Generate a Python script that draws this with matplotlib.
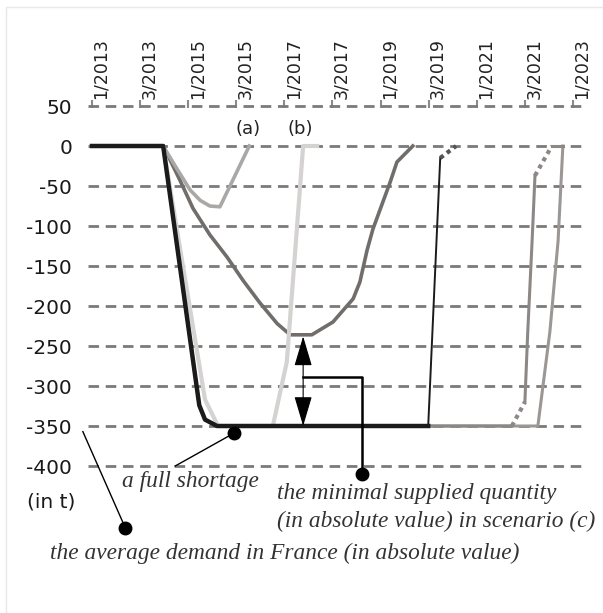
import matplotlib
matplotlib.use('Agg')
import matplotlib.pyplot as plt
from matplotlib.patches import Rectangle

plt.rcParams['axes.unicode_minus'] = False

# periods on the top axis (x below is in units of these ticks)
periods = ['1/2013', '3/2013', '1/2015', '3/2015', '1/2017', '3/2017',
           '1/2019', '3/2019', '1/2021', '3/2021', '1/2023']
yticks = [50, 0, -50, -100, -150, -200, -250, -300, -350, -400]

# scenario (a)
x_a = [0, 1.48, 1.73, 2.04, 2.25, 2.45, 2.66, 3.27]
y_a = [0, 0, -25, -55, -68, -75, -76, 0]

# scenario (b)
x_b = [0, 1.48, 2.35, 2.62, 3.76, 4.05, 4.39, 4.68]
y_b = [0, 0, -317, -350, -350, -270, 0, 0]

# scenario (c)
x_c = [0, 1.48, 1.62, 1.83, 2.10, 2.45, 2.81, 3.14, 3.49, 3.85, 4.12, 4.57,
       5.01, 5.43, 5.57, 5.72, 5.84, 6.20, 6.34, 6.67]
y_c = [0, 0, -17, -43, -78, -111, -139, -168, -196, -222, -236, -236,
       -220, -191, -170, -130, -104, -45, -20, 0]

# full shortage (black)
x_k = [0, 1.48, 2.23, 2.35, 2.60, 6.99, 7.24, 7.57]
y_k = [0, 0, -324, -342, -350, -350, -15, 0]

# two later scenarios
x_d = [0, 1.48, 2.23, 2.35, 2.60, 8.73, 9.00, 9.06, 9.15, 9.21, 9.56, 9.79]
y_d = [0, 0, -324, -342, -350, -350, -320, -232, -119, -37, 0, 0]
x_e = [0, 1.48, 2.23, 2.35, 2.60, 9.27, 9.52, 9.69, 9.79]
y_e = [0, 0, -324, -342, -350, -350, -232, -119, 0]

fig = plt.figure(figsize=(6.03, 6.13), dpi=100)
ax = fig.add_axes([88/603, 1-474/613, 497/603, 369.6/613])

dots = (0, (1, 1))
ax.plot(x_c, y_c, color='#716d6b', lw=2.6, solid_joinstyle='round')
ax.plot(x_a, y_a, color='#aaa8a6', lw=2.6, solid_joinstyle='round')
ax.plot(x_e, y_e, color='#9a9795', lw=2.2)
ax.plot(x_d[:6], y_d[:6], color='#8c8886', lw=2.2)
ax.plot(x_d[5:7], y_d[5:7], color='#8c8886', lw=3, linestyle=dots)
ax.plot(x_d[6:10], y_d[6:10], color='#8c8886', lw=2.2)
ax.plot(x_d[9:11], y_d[9:11], color='#8c8886', lw=3, linestyle=dots)
ax.plot(x_d[10:], y_d[10:], color='#8c8886', lw=2.2)
ax.plot(x_b, y_b, color='#d5d3d1', lw=3)
ax.plot(x_k[:6], y_k[:6], color='#1b1b1b', lw=3.2, solid_joinstyle='round')
ax.plot(x_k[5:7], y_k[5:7], color='#1b1b1b', lw=1.4)
ax.plot(x_k[6:], y_k[6:], color='#555555', lw=3, linestyle=dots)

# double arrow: minimal supplied quantity in (c)
ax.annotate('', xy=(4.39, -238), xytext=(4.39, -350),
            arrowprops=dict(arrowstyle='<|-|>,head_length=1.35,head_width=0.4',
                            color='black', lw=0.8, shrinkA=0, shrinkB=0,
                            mutation_scale=14))
ax.plot([4.39, 5.61, 5.61], [-289, -289, -410], color='black', lw=1.8, clip_on=False)
ax.plot([5.61], [-410], 'o', color='black', ms=9, clip_on=False)
# a full shortage
ax.plot([1.73, 2.95], [-400, -359], color='black', lw=1, clip_on=False)
ax.plot([2.95], [-359], 'o', color='black', ms=9, clip_on=False)
# average demand
ax.plot([-0.19, 0.69], [-357, -477], color='black', lw=1, clip_on=False)
ax.plot([0.69], [-477], 'o', color='black', ms=9, clip_on=False)

ax.set_xlim(-0.083, 10.25)
ax.set_ylim(-410, 52)
ax.set_yticks(yticks)
ax.set_yticklabels([str(v) for v in yticks])
ax.xaxis.tick_top()
ax.set_xticks(range(len(periods)))
ax.set_xticklabels(periods, rotation=90, ha='left')
ax.tick_params(axis='x', top=True, bottom=False, length=6, width=1.5,
               color='#8a8a8a', direction='inout', pad=1, labelsize=12.5,
               labelcolor='#222222')
ax.tick_params(axis='y', length=0, pad=11.5, labelsize=14.5, labelcolor='#1a1a1a')
ax.grid(axis='y', color='#7a7a7a', lw=2, linestyle=(0, (3.8, 2.4)))
ax.set_axisbelow(True)
for s in ax.spines.values():
    s.set_visible(False)

fig.text(248/603, 1-129/613, '(a)', fontsize=13, ha='center', va='center', color='#222222')
fig.text(300/603, 1-129/613, '(b)', fontsize=13, ha='center', va='center', color='#222222')
fig.text(27/603, 1-502/613, '(in t)', fontsize=14.5, va='center', color='#1a1a1a')

it = dict(family='Liberation Serif', style='italic', fontsize=16.8, va='center', color='#333333')
fig.text(122/603, 1-481/613, 'a full shortage', **it)
fig.text(277/603, 1-494/613, 'the minimal supplied quantity', **it)
fig.text(277/603, 1-521/613, '(in absolute value) in scenario (c)', **it)
fig.text(50/603, 1-553/613, 'the average demand in France (in absolute value)', **it)

fig.add_artist(Rectangle((6/603, -0.01), 1.0, 1-7/613+0.01, transform=fig.transFigure,
                         fill=False, edgecolor='#e8e8e8', lw=1))

plt.savefig('out.png', dpi=100)
